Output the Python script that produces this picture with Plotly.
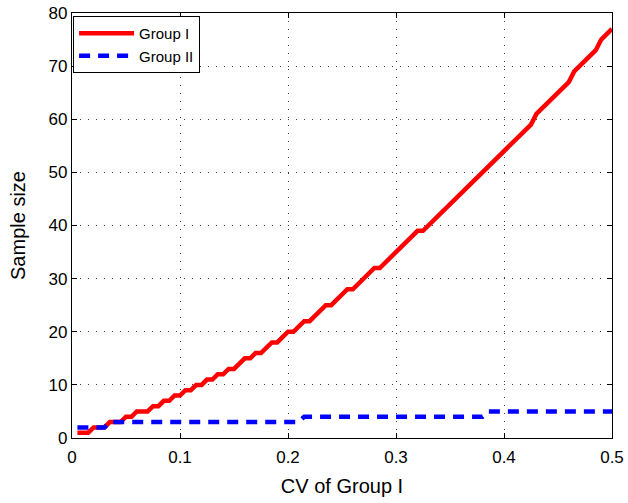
import plotly.graph_objects as go

# CV of Group I (x) and sample sizes
cv_group1 = [0.005, 0.01, 0.015, 0.02, 0.025, 0.03, 0.035, 0.04, 0.045, 0.05,
             0.055, 0.06, 0.065, 0.07, 0.075, 0.08, 0.085, 0.09, 0.095, 0.1,
             0.105, 0.11, 0.115, 0.12, 0.125, 0.13, 0.135, 0.14, 0.145, 0.15,
             0.155, 0.16, 0.165, 0.17, 0.175, 0.18, 0.185, 0.19, 0.195, 0.2,
             0.205, 0.21, 0.215, 0.22, 0.225, 0.23, 0.235, 0.24, 0.245, 0.25,
             0.255, 0.26, 0.265, 0.27, 0.275, 0.28, 0.285, 0.29, 0.295, 0.3,
             0.305, 0.31, 0.315, 0.32, 0.325, 0.33, 0.335, 0.34, 0.345, 0.35,
             0.355, 0.36, 0.365, 0.37, 0.375, 0.38, 0.385, 0.39, 0.395, 0.4,
             0.405, 0.41, 0.415, 0.42, 0.425, 0.43, 0.435, 0.44, 0.445, 0.45,
             0.455, 0.46, 0.465, 0.47, 0.475, 0.48, 0.485, 0.49, 0.495, 0.5]

group1_n = [1, 1, 1, 2, 2, 2, 3, 3, 3, 4,
            4, 5, 5, 5, 6, 6, 7, 7, 8, 8,
            9, 9, 10, 10, 11, 11, 12, 12, 13, 13,
            14, 15, 15, 16, 16, 17, 18, 18, 19, 20,
            20, 21, 22, 22, 23, 24, 25, 25, 26, 27,
            28, 28, 29, 30, 31, 32, 32, 33, 34, 35,
            36, 37, 38, 39, 39, 40, 41, 42, 43, 44,
            45, 46, 47, 48, 49, 50, 51, 52, 53, 54,
            55, 56, 57, 58, 59, 61, 62, 63, 64, 65,
            66, 67, 69, 70, 71, 72, 73, 75, 76, 77]

group2_n = [2, 2, 2, 2, 2, 2, 3, 3, 3, 3,
            3, 3, 3, 3, 3, 3, 3, 3, 3, 3,
            3, 3, 3, 3, 3, 3, 3, 3, 3, 3,
            3, 3, 3, 3, 3, 3, 3, 3, 3, 3,
            3, 3, 4, 4, 4, 4, 4, 4, 4, 4,
            4, 4, 4, 4, 4, 4, 4, 4, 4, 4,
            4, 4, 4, 4, 4, 4, 4, 4, 4, 4,
            4, 4, 4, 4, 4, 4, 5, 5, 5, 5,
            5, 5, 5, 5, 5, 5, 5, 5, 5, 5,
            5, 5, 5, 5, 5, 5, 5, 5, 5, 5]

x_ticks = [0, 0.1, 0.2, 0.3, 0.4, 0.5]
x_tick_labels = ["0", "0.1", "0.2", "0.3", "0.4", "0.5"]
y_ticks = [0, 10, 20, 30, 40, 50, 60, 70, 80]

font_family = "Liberation Sans, Arial, sans-serif"

fig = go.Figure()
fig.add_trace(go.Scatter(x=cv_group1, y=group1_n, mode="lines", name="Group I",
                         line=dict(color="#ff0000", width=4.5)))
fig.add_trace(go.Scatter(x=cv_group1, y=group2_n, mode="lines", name="Group II",
                         line=dict(color="#0000ff", width=4.5, dash="11px,8px")))

axis_common = dict(
    showline=True, linecolor="black", linewidth=1.2, mirror="ticks",
    ticks="inside", ticklen=5, tickcolor="black", tickwidth=1,
    showgrid=True, gridcolor="#404040", griddash="1px,7px", gridwidth=1,
    zeroline=False, tickfont=dict(size=17, color="black", family=font_family),
    automargin=False,
)

fig.update_layout(
    width=628, height=503,
    margin=dict(l=72, r=16, t=13, b=65, autoexpand=False),
    plot_bgcolor="white", paper_bgcolor="white",
    font=dict(family=font_family, color="black"),
    xaxis=dict(range=[0, 0.5], tickvals=x_ticks, ticktext=x_tick_labels,
               ticklabelstandoff=3,
               title=dict(text="CV of Group I", font=dict(size=20), standoff=13),
               **axis_common),
    yaxis=dict(range=[0, 80], tickvals=y_ticks,
               title=dict(text="Sample size", font=dict(size=20), standoff=17),
               **axis_common),
    legend=dict(x=0.002, y=0.993, xanchor="left", yanchor="top",
                bgcolor="white", bordercolor="black", borderwidth=1,
                font=dict(size=15, color="black"), tracegroupgap=0,
                itemwidth=55),
    showlegend=True,
)

fig.write_html("out.html")
